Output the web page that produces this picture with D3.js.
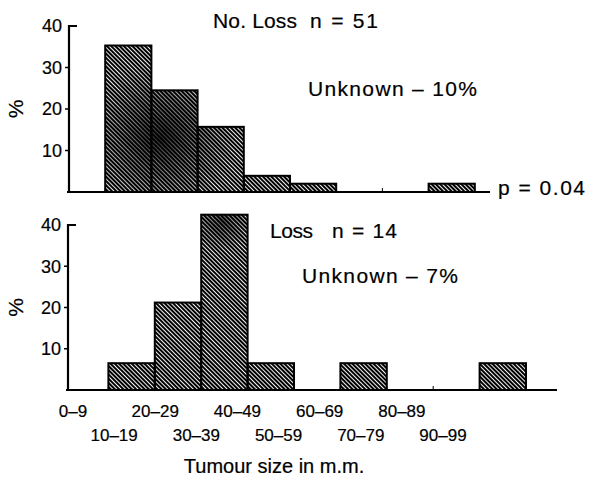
<!DOCTYPE html>
<html>
<head>
<meta charset="utf-8">
<script src="https://cdn.jsdelivr.net/npm/d3@7/dist/d3.min.js"></script>
<style>
    body { margin: 0; background: #fff; }
    svg text { font-family: "Liberation Sans", Arial, Helvetica, sans-serif; fill: #000; stroke: #000; stroke-width: 0.2px; }
</style>
</head>
<body>
<svg id="chart" width="589" height="479"></svg>
<script>
// tumour size bins (m.m.)
var sizeBins = ["0\u20139", "10\u201319", "20\u201329", "30\u201339", "40\u201349",
                "50\u201359", "60\u201369", "70\u201379", "80\u201389", "90\u201399"];
// % of cases per bin
var noLossPct = [0, 35.3, 24.5, 15.7, 3.9, 2.0, 0, 0, 2.0, 0];
var lossPct = [0, 6.5, 21.2, 42.5, 6.5, 0, 6.5, 0, 0, 6.5];
var yTicks = [10, 20, 30, 40];
var xTitle = "Tumour size in m.m.";

var svg = d3.select('#chart');
var defs = svg.append('defs');

// dense diagonal hatching
var hatch = defs.append('pattern')
    .attr('id', 'hatch')
    .attr('patternUnits', 'userSpaceOnUse')
    .attr('width', 3)
    .attr('height', 3)
    .attr('patternTransform', 'rotate(-45)');
hatch.append('rect').attr('width', 3).attr('height', 3).attr('fill', '#fff');
hatch.append('line')
    .attr('x1', 1).attr('x2', 1).attr('y1', 0).attr('y2', 3)
    .attr('stroke', '#000').attr('stroke-width', 2.1);

// dark smudges from the print
function addSmudge(id, cx, cy, r, op) {
    var s = defs.append('radialGradient')
        .attr('id', id)
        .attr('gradientUnits', 'userSpaceOnUse')
        .attr('cx', cx).attr('cy', cy).attr('r', r);
    s.append('stop').attr('offset', 0).attr('stop-color', '#000').attr('stop-opacity', op);
    s.append('stop').attr('offset', 1).attr('stop-color', '#000').attr('stop-opacity', 0);
}
addSmudge('smudgeTop', 160, 138, 75, 0.8);
addSmudge('smudgeBottom', 222, 222, 30, 0.6);

var panels = [
    {
        data: noLossPct, xRange: [59, 521], yRange: [192, 26], axisX: 69, baseEnd: 490,
        smudge: 'smudgeTop',
        texts: [
            {t: "No. Loss", x: 213, y: 28, w: 84},
            {t: "n = 51", x: 310, y: 28, w: 68},
            {t: "Unknown \u2013 10%", x: 308, y: 96, w: 169},
            {t: "p = 0.04", x: 498, y: 195, w: 87}
        ]
    },
    {
        data: lossPct, xRange: [62, 526], yRange: [390, 225], axisX: 68, baseEnd: 557,
        smudge: 'smudgeBottom',
        texts: [
            {t: "Loss", x: 270, y: 238, w: 43},
            {t: "n = 14", x: 332, y: 238, w: 65},
            {t: "Unknown \u2013 7%", x: 302, y: 283, w: 156}
        ]
    }
];

panels.forEach(function (p) {
    var xs = d3.scaleBand().domain(sizeBins).range(p.xRange).padding(0);
    var ys = d3.scaleLinear().domain([0, 40]).range(p.yRange);
    var g = svg.append('g');
    var base = ys(0);

    // small ticks on the baseline at bin edges
    g.selectAll('line.edge').data(sizeBins.slice(1)).enter().append('line')
        .attr('class', 'edge')
        .attr('x1', function (d) { return xs(d); })
        .attr('x2', function (d) { return xs(d); })
        .attr('y1', base)
        .attr('y2', base - 4)
        .attr('stroke', '#000').attr('stroke-width', 1);

    var bars = sizeBins.map(function (b, i) { return {bin: b, v: p.data[i]}; })
        .filter(function (d) { return d.v > 0; });

    ['url(#hatch)', 'url(#' + p.smudge + ')'].forEach(function (fill) {
        g.selectAll(null).data(bars).enter().append('rect')
            .attr('x', function (d) { return xs(d.bin); })
            .attr('y', function (d) { return ys(d.v); })
            .attr('width', xs.bandwidth())
            .attr('height', function (d) { return base - ys(d.v); })
            .attr('fill', fill);
    });

    g.selectAll('rect.outline').data(bars).enter().append('rect')
        .attr('class', 'outline')
        .attr('x', function (d) { return xs(d.bin); })
        .attr('y', function (d) { return ys(d.v); })
        .attr('width', xs.bandwidth())
        .attr('height', function (d) { return base - ys(d.v); })
        .attr('fill', 'none')
        .attr('stroke', '#000').attr('stroke-width', 2);

    // y axis
    g.append('line')
        .attr('x1', p.axisX).attr('x2', p.axisX)
        .attr('y1', ys(40) - 1).attr('y2', base + 1)
        .attr('stroke', '#000').attr('stroke-width', 2.2);
    g.append('line')
        .attr('x1', p.axisX - 1).attr('x2', p.axisX + 8)
        .attr('y1', ys(40)).attr('y2', ys(40))
        .attr('stroke', '#000').attr('stroke-width', 2);
    g.selectAll('line.ytick').data(yTicks.slice(0, 3)).enter().append('line')
        .attr('class', 'ytick')
        .attr('x1', p.axisX - 4).attr('x2', p.axisX)
        .attr('y1', function (d) { return ys(d); })
        .attr('y2', function (d) { return ys(d); })
        .attr('stroke', '#000').attr('stroke-width', 1.5);
    g.selectAll('text.ylab').data(yTicks).enter().append('text')
        .attr('class', 'ylab')
        .attr('x', p.axisX - 7)
        .attr('y', function (d) { return ys(d); })
        .attr('dy', '0.36em')
        .attr('text-anchor', 'end')
        .style('font-size', '18px')
        .text(function (d) { return d; });
    g.append('text')
        .attr('transform', 'translate(23,' + ys(20) + ') rotate(-90)')
        .attr('text-anchor', 'middle')
        .style('font-size', '21px')
        .text('%');

    // baseline
    g.append('line')
        .attr('x1', p.axisX - 2).attr('x2', p.baseEnd)
        .attr('y1', base).attr('y2', base)
        .attr('stroke', '#000').attr('stroke-width', 2.2);

    p.texts.forEach(function (t) {
        g.append('text')
            .attr('x', t.x).attr('y', t.y)
            .attr('textLength', t.w)
            .attr('lengthAdjust', 'spacing')
            .style('font-size', '21px')
            .text(t.t);
    });
});

// x tick labels, staggered over two rows
var xl = d3.scalePoint().domain(sizeBins).range([73, 443]);
svg.selectAll('text.xlab').data(sizeBins).enter().append('text')
    .attr('class', 'xlab')
    .attr('x', function (d) { return xl(d); })
    .attr('y', function (d, i) { return i % 2 === 0 ? 417 : 441; })
    .attr('text-anchor', 'middle')
    .style('font-size', '17px')
    .text(function (d) { return d; });

svg.append('text')
    .attr('x', 274).attr('y', 473)
    .attr('text-anchor', 'middle')
    .style('font-size', '20px')
    .text(xTitle);
</script>
</body>
</html>
